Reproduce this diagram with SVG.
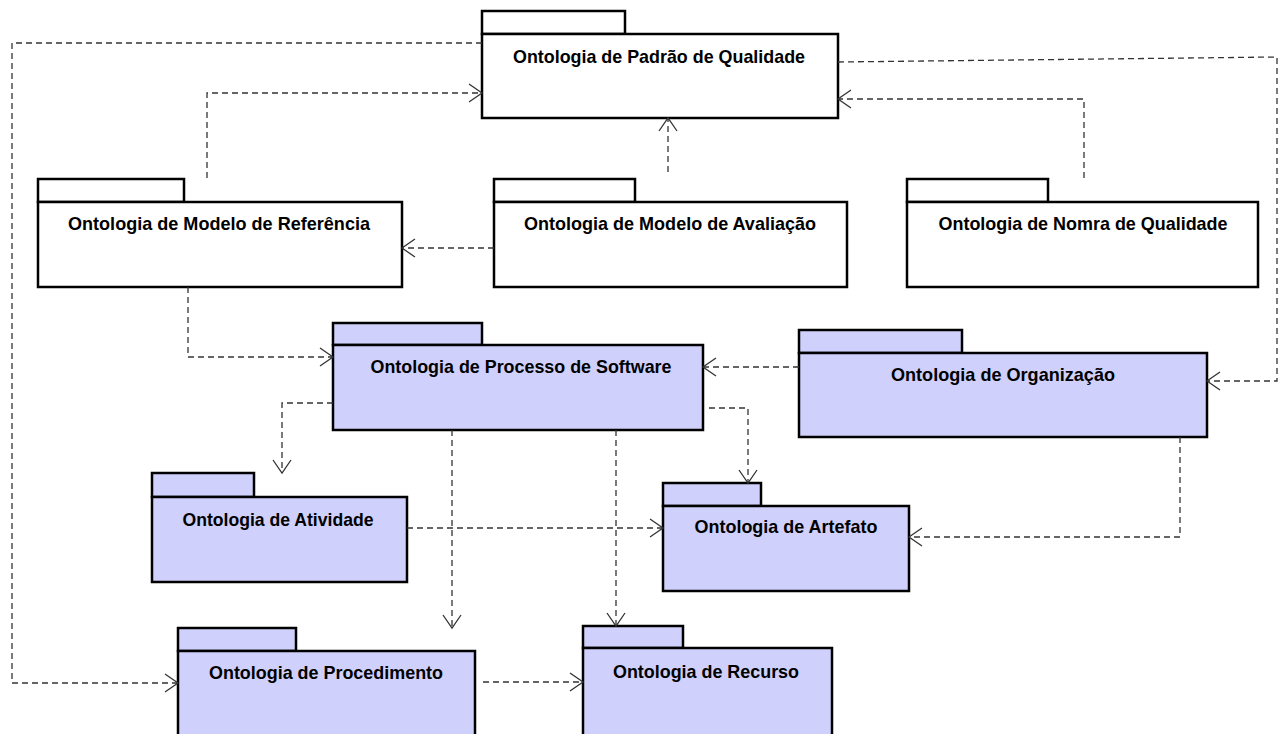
<svg xmlns="http://www.w3.org/2000/svg" width="1282" height="734" viewBox="0 0 1282 734">
<style>
.w rect{fill:#ffffff;stroke:#000;stroke-width:2.5}
.b rect{fill:#d0d0fc;stroke:#000;stroke-width:2.5}
text{font-family:"Liberation Sans",Arial,sans-serif;font-weight:bold;font-size:19px;fill:#000;text-anchor:middle}
#connectors path{fill:none;stroke:#333;stroke-width:1.3;stroke-dasharray:6,4}
</style>
<defs>
<marker id="arr" viewBox="-15 -11 17 22" refX="0" refY="0" markerWidth="17" markerHeight="22" orient="auto" markerUnits="userSpaceOnUse">
<path d="M-13,-9 L0,0 L-13,9" fill="none" stroke="#333" stroke-width="1.3"/>
</marker>
</defs>
<rect width="1282" height="734" fill="#fff"/>
<g id="n-padrao" class="w"><rect x="482" y="11" width="143" height="23"/><rect x="482" y="34" width="356" height="84"/><text x="659" y="63" textLength="292" lengthAdjust="spacingAndGlyphs">Ontologia de Padrão de Qualidade</text></g>
<g id="n-referencia" class="w"><rect x="38" y="179" width="146" height="23"/><rect x="38" y="202" width="364" height="85"/><text x="219" y="230" textLength="302" lengthAdjust="spacingAndGlyphs">Ontologia de Modelo de Referência</text></g>
<g id="n-avaliacao" class="w"><rect x="494" y="179" width="141" height="23"/><rect x="494" y="202" width="353" height="85"/><text x="670" y="230" textLength="292" lengthAdjust="spacingAndGlyphs">Ontologia de Modelo de Avaliação</text></g>
<g id="n-norma" class="w"><rect x="907" y="179" width="141" height="23"/><rect x="907" y="202" width="351" height="85"/><text x="1083" y="230" textLength="289" lengthAdjust="spacingAndGlyphs">Ontologia de Nomra de Qualidade</text></g>
<g id="n-processo" class="b"><rect x="333" y="323" width="149" height="22"/><rect x="333" y="345" width="370" height="85"/><text x="521" y="373" textLength="301" lengthAdjust="spacingAndGlyphs">Ontologia de Processo de Software</text></g>
<g id="n-organizacao" class="b"><rect x="799" y="330" width="163" height="23"/><rect x="799" y="353" width="408" height="84"/><text x="1003" y="381" textLength="224" lengthAdjust="spacingAndGlyphs">Ontologia de Organização</text></g>
<g id="n-atividade" class="b"><rect x="152" y="473" width="102" height="24"/><rect x="152" y="497" width="255" height="85"/><text x="278" y="526" textLength="191" lengthAdjust="spacingAndGlyphs">Ontologia de Atividade</text></g>
<g id="n-artefato" class="b"><rect x="663" y="483" width="98" height="23"/><rect x="663" y="506" width="246" height="85"/><text x="786" y="533" textLength="183" lengthAdjust="spacingAndGlyphs">Ontologia de Artefato</text></g>
<g id="n-procedimento" class="b"><rect x="178" y="628" width="118" height="23"/><rect x="178" y="651" width="297" height="110"/><text x="326" y="679" textLength="234" lengthAdjust="spacingAndGlyphs">Ontologia de Procedimento</text></g>
<g id="n-recurso" class="b"><rect x="583" y="626" width="100" height="22"/><rect x="583" y="648" width="249" height="110"/><text x="706" y="678" textLength="186" lengthAdjust="spacingAndGlyphs">Ontologia de Recurso</text></g>
<g id="connectors">
<path d="M482,43 H12 V683 H178" marker-end="url(#arr)"/>
<path d="M207,178 V93 H482" marker-end="url(#arr)"/>
<path d="M838,62 L1277,57 V381 H1207" marker-end="url(#arr)"/>
<path d="M1084,178 V99 H838" marker-end="url(#arr)"/>
<path d="M668,172 V118" marker-end="url(#arr)"/>
<path d="M494,248 H402" marker-end="url(#arr)"/>
<path d="M188,287 V357 H333" marker-end="url(#arr)"/>
<path d="M799,367 H703" marker-end="url(#arr)"/>
<path d="M333,403 H282 V473" marker-end="url(#arr)"/>
<path d="M709,408 H748 V483" marker-end="url(#arr)"/>
<path d="M407,528 H663" marker-end="url(#arr)"/>
<path d="M1180,437 V537 H909" marker-end="url(#arr)"/>
<path d="M452,430 V628" marker-end="url(#arr)"/>
<path d="M616,430 V626" marker-end="url(#arr)"/>
<path d="M483,682 H583" marker-end="url(#arr)"/>
</g>
</svg>
